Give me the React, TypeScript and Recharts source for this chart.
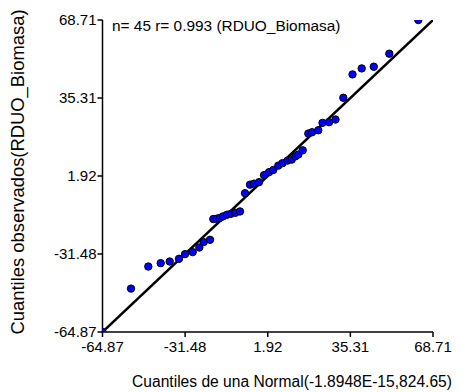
import React from 'react';
import { ScatterChart, Scatter, XAxis, YAxis } from 'recharts';

const normalQuantiles = [
  -64.87, -53.35, -46.36, -41.35, -37.71, -33.95, -31.53, -28.41, -25.75, -23.97,
  -21.42, -20.09, -18.79, -17.58, -16.17, -14.55, -12.93, -11.11, -9.3, -7.27,
  -5.25, -3.64, -1.62, 0.41, 2.43, 4.16, 6.18, 7.88, 9.9, 11.6,
  13.14, 14.27, 16.05, 18.31, 19.81, 22.35, 24.05, 26.68, 29.3, 32.46,
  36.18, 39.89, 44.78, 51.05, 62.77,
];
const observedQuantiles = [
  -64.87, -46.29, -36.85, -35.39, -34.7, -33.54, -31.53, -30.67, -28.7, -26.38,
  -25.39, -16.51, -16.38, -16.08, -15.39, -14.66, -14.24, -13.81, -13.25, -5.44,
  -1.79, -1.36, -0.72, 2.28, 3.57, 4.52, 6.36, 7.43, 8.51, 8.94,
  10.35, 11.08, 12.93, 20.09, 20.65, 21.51, 24.68, 24.94, 26.1, 35.41,
  45.41, 47.98, 48.71, 54.29, 68.71,
];
const fitLineX = [-64.87, 68.71];
const fitLineY = [-64.87, 68.71];
const axisTicks = [-64.87, -31.48, 1.92, 35.31, 68.71];
const axisDomain = [-64.87, 68.71];

const xTitle = 'Cuantiles de una Normal(-1.8948E-15,824.65)';
const yTitle = 'Cuantiles observados(RDUO_Biomasa)';
const annotation = 'n= 45 r= 0.993 (RDUO_Biomasa)';

const points = normalQuantiles.map((x, i) => ({ x, y: observedQuantiles[i] }));
const fitLine = fitLineX.map((x, i) => ({ x, y: fitLineY[i] }));

const FONT = '"Liberation Sans", Arial, sans-serif';

const Dot = (props: any) => {
  const { cx, cy } = props;
  if (cx == null || cy == null) return null;
  return <circle cx={cx} cy={cy} r={3.7} fill="#0000FF" stroke="#000" strokeWidth={1} />;
};

export default function App() {
  return (
    <div style={{ position: 'absolute', left: 0, top: 0, width: 462, height: 392, background: '#fff' }}>
      <ScatterChart
        width={462}
        height={392}
        margin={{ top: 20, right: 29, bottom: 0, left: 0 }}
      >
        <XAxis
          type="number"
          dataKey="x"
          domain={axisDomain}
          ticks={axisTicks}
          tickFormatter={(v: number) => v.toFixed(2)}
          allowDataOverflow
          height={60}
          axisLine={{ stroke: '#000', strokeWidth: 1.5 }}
          tickLine={{ stroke: '#000', strokeWidth: 1.5 }}
          tickSize={5}
          tickMargin={4}
          tick={{ fill: '#000', fontSize: 15, fontFamily: FONT }}
          interval={0}
          label={{
            content: () => (
              <text x={292} y={387} textAnchor="middle" fill="#000" fontSize={15.6} fontFamily={FONT}>
                {xTitle}
              </text>
            ),
          }}
        />
        <YAxis
          type="number"
          dataKey="y"
          domain={axisDomain}
          ticks={axisTicks}
          tickFormatter={(v: number) => v.toFixed(2)}
          allowDataOverflow
          width={102.5}
          axisLine={{ stroke: '#000', strokeWidth: 1.5 }}
          tickLine={{ stroke: '#000', strokeWidth: 1.5 }}
          tickSize={5}
          tickMargin={1}
          tick={{ fill: '#000', fontSize: 15, fontFamily: FONT }}
          interval={0}
          label={{
            content: () => (
              <g>
                <text
                  x={24}
                  y={172}
                  transform="rotate(-90 24 172)"
                  textAnchor="middle"
                  fill="#000"
                  fontSize={18.4}
                  fontFamily={FONT}
                >
                  {yTitle}
                </text>
                <text x={112} y={31} fill="#000" fontSize={15.4} fontFamily={FONT}>
                  {annotation}
                </text>
              </g>
            ),
          }}
        />
        <Scatter
          data={fitLine}
          line={{ stroke: '#000', strokeWidth: 2.5 }}
          shape={() => null}
          isAnimationActive={false}
        />
        <Scatter data={points} shape={Dot} isAnimationActive={false} />
      </ScatterChart>
    </div>
  );
}
